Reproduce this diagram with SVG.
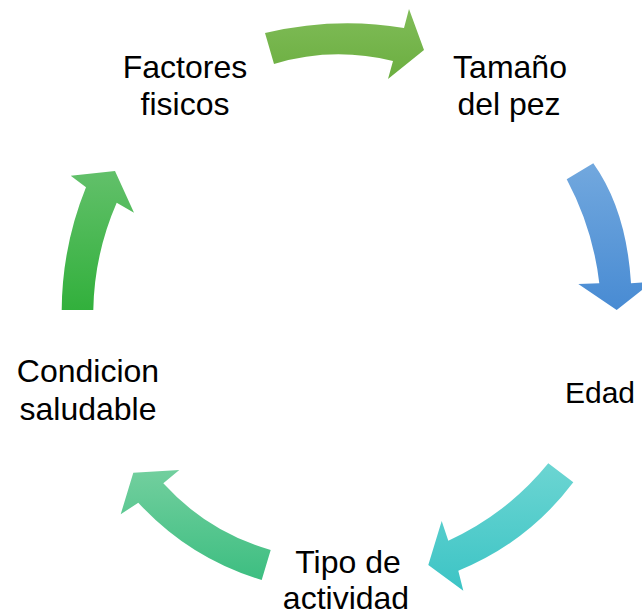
<svg xmlns="http://www.w3.org/2000/svg" width="642" height="616" viewBox="0 0 642 616">
  <defs>
    <linearGradient id="gTop" x1="0" y1="0" x2="0" y2="1"><stop offset="0" stop-color="#80BC58"/><stop offset="1" stop-color="#6BAE40"/></linearGradient>
    <linearGradient id="gBlue" x1="0" y1="0" x2="0" y2="1"><stop offset="0" stop-color="#72A8DE"/><stop offset="1" stop-color="#488BD3"/></linearGradient>
    <linearGradient id="gTeal" x1="0" y1="0" x2="0" y2="1"><stop offset="0" stop-color="#6CD5D2"/><stop offset="1" stop-color="#3CC4C5"/></linearGradient>
    <linearGradient id="gMint" x1="0" y1="0" x2="0" y2="1"><stop offset="0" stop-color="#72CF9E"/><stop offset="1" stop-color="#3DBE81"/></linearGradient>
    <linearGradient id="gLeft" x1="0" y1="0" x2="0" y2="1"><stop offset="0" stop-color="#62C06A"/><stop offset="1" stop-color="#32B03C"/></linearGradient>
  </defs>
  <style>
    .lbl { font-family: "Liberation Sans", Arial, sans-serif; font-size: 32px; fill: #000; text-anchor: middle; }
    .arrow { stroke: none; }
  </style>
  <rect width="642" height="616" fill="#fff"/>
  <g id="connectors">
    <path class="arrow" fill="url(#gTop)" d="M265,33 Q335.5,16.5 404,28 L409,9 L424,50 L388,79 L393,61 Q332.5,46.3 274,64 Z"/>
    <path class="arrow" fill="url(#gBlue)" d="M593.3,163.3 Q626.5,210 631,283.3 L652,282 L616.7,310 L578.3,284 L599.3,283.3 Q593,228.7 566.7,179.3 Z"/>
    <path class="arrow" fill="url(#gTeal)" d="M573.3,482.3 Q528,542.3 458.3,570.7 L463.3,590.7 L428.3,565 L441.7,521 L448.3,540.7 Q507.3,513.6 548.3,463.3 Z"/>
    <path class="arrow" fill="url(#gMint)" d="M261.7,580 Q189.4,558.3 138.3,502.7 L120.7,514.3 L133.3,472.7 L179.3,470 L163.3,483.3 Q207.5,532 270.7,550 Z"/>
    <path class="arrow" fill="url(#gLeft)" d="M61.7,310 Q62.1,246.3 86,187.3 L70.7,175.7 L115,171 L134,212.7 L116.7,202.7 Q94.3,254.1 93.3,310 Z"/>
  </g>
  <g id="node-factores">
    <text class="lbl" x="185" y="78">Factores</text>
    <text class="lbl" x="185" y="115">fisicos</text>
  </g>
  <g id="node-tamano">
    <text class="lbl" x="510" y="78">Tamaño</text>
    <text class="lbl" x="509" y="115">del pez</text>
  </g>
  <g id="node-edad">
    <text class="lbl" x="600" y="403" style="font-size:30px">Edad</text>
  </g>
  <g id="node-tipo">
    <text class="lbl" x="348" y="573">Tipo de</text>
    <text class="lbl" x="346" y="609">actividad</text>
  </g>
  <g id="node-condicion">
    <text class="lbl" x="88" y="382">Condicion</text>
    <text class="lbl" x="88" y="420">saludable</text>
  </g>
</svg>
